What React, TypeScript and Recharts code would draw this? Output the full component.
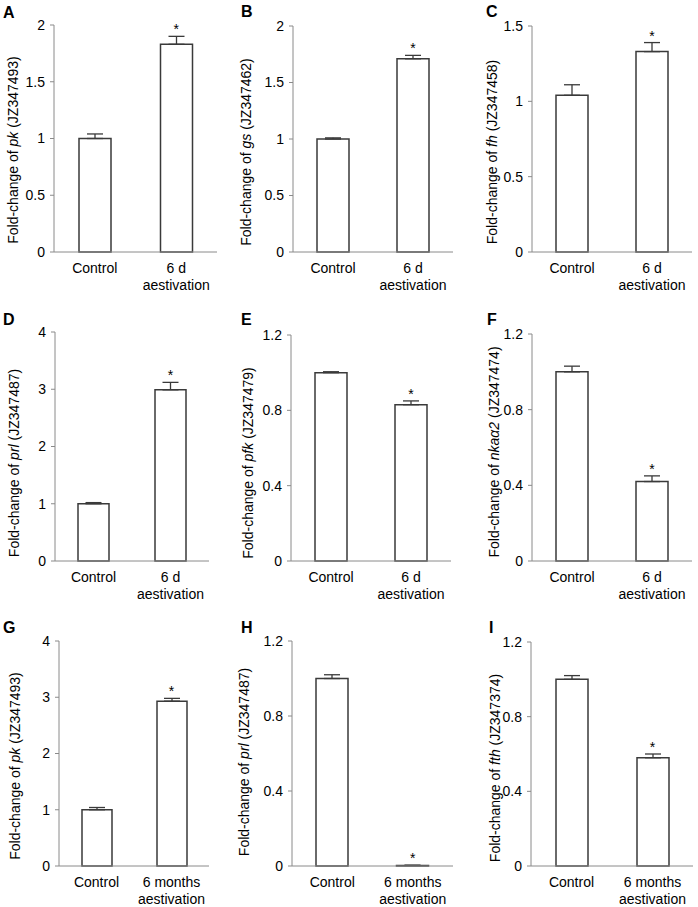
import React from 'react';
import { ComposedChart, Bar, Line, XAxis, YAxis, ErrorBar } from 'recharts';

const FONT = '"Liberation Sans", Arial, Helvetica, sans-serif';
const AXIS = '#8a8a8a';
const INK = '#3a3a3a';

// ---- categories / tick labels ----
const categories6d = ['Control', '6 d\naestivation'];
const categories6m = ['Control', '6 months\naestivation'];
const significance = ['', '*'];

const ticks0to2 = [0, 0.5, 1, 1.5, 2];
const ticks0to15 = [0, 0.5, 1, 1.5];
const ticks0to4 = [0, 1, 2, 3, 4];
const ticks0to12 = [0, 0.4, 0.8, 1.2];

// ---- series values (mean fold-change) and errors (upper SE) ----
const pkA = [1.0, 1.83];
const pkAErr = [0.04, 0.07];
const gsB = [1.0, 1.71];
const gsBErr = [0.01, 0.03];
const fhC = [1.04, 1.33];
const fhCErr = [0.07, 0.06];
const prlD = [1.0, 2.99];
const prlDErr = [0.02, 0.13];
const pfkE = [1.0, 0.83];
const pfkEErr = [0.005, 0.02];
const nkaF = [1.0, 0.42];
const nkaFErr = [0.03, 0.03];
const pkG = [1.0, 2.93];
const pkGErr = [0.04, 0.05];
const prlH = [1.0, 0.003];
const prlHErr = [0.02, 0.001];
const fthI = [1.0, 0.58];
const fthIErr = [0.02, 0.02];

type Panel = {
  letter: string;
  gene: string;
  accession: string;
  categories: string[];
  values: number[];
  errors: number[];
  ticks: number[];
  plot: { left: number; right: number; top: number; bottom: number };
  labelPos: { x: number; y: number };
  letterPos: { x: number; y: number };
  barSize: number;
};

const panels: Panel[] = [
  { letter: 'A', gene: 'pk', accession: 'JZ347493', categories: categories6d, values: pkA, errors: pkAErr, ticks: ticks0to2,
    plot: { left: 54, right: 217, top: 25, bottom: 252 }, labelPos: { x: 13, y: 150 }, letterPos: { x: 3, y: 18 }, barSize: 32 },
  { letter: 'B', gene: 'gs', accession: 'JZ347462', categories: categories6d, values: gsB, errors: gsBErr, ticks: ticks0to2,
    plot: { left: 293, right: 453, top: 26, bottom: 252 }, labelPos: { x: 246, y: 152 }, letterPos: { x: 241, y: 17 }, barSize: 32 },
  { letter: 'C', gene: 'fh', accession: 'JZ347458', categories: categories6d, values: fhC, errors: fhCErr, ticks: ticks0to15,
    plot: { left: 532, right: 692, top: 26, bottom: 252 }, labelPos: { x: 492, y: 152 }, letterPos: { x: 486, y: 17 }, barSize: 32 },
  { letter: 'D', gene: 'prl', accession: 'JZ347487', categories: categories6d, values: prlD, errors: prlDErr, ticks: ticks0to4,
    plot: { left: 55, right: 209, top: 332, bottom: 561 }, labelPos: { x: 14, y: 463 }, letterPos: { x: 3, y: 325 }, barSize: 31 },
  { letter: 'E', gene: 'pfk', accession: 'JZ347479', categories: categories6d, values: pfkE, errors: pfkEErr, ticks: ticks0to12,
    plot: { left: 291, right: 451, top: 335, bottom: 561 }, labelPos: { x: 248, y: 463 }, letterPos: { x: 241, y: 325 }, barSize: 32 },
  { letter: 'F', gene: 'nkaα2', accession: 'JZ347474', categories: categories6d, values: nkaF, errors: nkaFErr, ticks: ticks0to12,
    plot: { left: 532, right: 692, top: 334, bottom: 561 }, labelPos: { x: 494, y: 452 }, letterPos: { x: 487, y: 325 }, barSize: 32 },
  { letter: 'G', gene: 'pk', accession: 'JZ347493', categories: categories6m, values: pkG, errors: pkGErr, ticks: ticks0to4,
    plot: { left: 59, right: 209, top: 641, bottom: 866 }, labelPos: { x: 15, y: 766 }, letterPos: { x: 3, y: 633 }, barSize: 30 },
  { letter: 'H', gene: 'prl', accession: 'JZ347487', categories: categories6m, values: prlH, errors: prlHErr, ticks: ticks0to12,
    plot: { left: 292, right: 453, top: 641, bottom: 866 }, labelPos: { x: 244, y: 762 }, letterPos: { x: 241, y: 633 }, barSize: 32 },
  { letter: 'I', gene: 'fth', accession: 'JZ347374', categories: categories6m, values: fthI, errors: fthIErr, ticks: ticks0to12,
    plot: { left: 531, right: 693, top: 642, bottom: 866 }, labelPos: { x: 495, y: 768 }, letterPos: { x: 489, y: 633 }, barSize: 32 },
];

const CatTick = (props: any) => {
  const { x, y, payload } = props;
  const lines = String(payload.value).split('\n');
  return (
    <text x={x} y={y} textAnchor="middle" fontSize={14} fontFamily={FONT} fill="#000">
      {lines.map((l, i) => (
        <tspan key={i} x={x} dy={i === 0 ? 13 : 17}>{l}</tspan>
      ))}
    </text>
  );
};

const YLabel = (props: any) => {
  const { lx, ly, gene, accession } = props;
  return (
    <text
      x={lx}
      y={ly}
      transform={`rotate(-90, ${lx}, ${ly})`}
      textAnchor="middle"
      dominantBaseline="central"
      fontSize={14}
      fontFamily={FONT}
      fill="#000"
    >
      <tspan>{'Fold-change of '}</tspan>
      <tspan fontStyle="italic">{gene}</tspan>
      <tspan>{' (' + accession + ')'}</tspan>
    </text>
  );
};

const StarDot = (props: any) => {
  const { cx, cy, payload, index } = props;
  if (!payload || !payload.sig || cx == null || cy == null) return <g key={`s-${index}`} />;
  return (
    <text key={`s-${index}`} x={cx} y={cy - 2} textAnchor="middle" fontSize={14} fontFamily={FONT} fill="#000">
      {payload.sig}
    </text>
  );
};

function PanelChart({ p }: { p: Panel }) {
  const chartLeft = p.labelPos.x - 12;
  const yw = p.plot.left - chartLeft;
  const mt = 15;
  const mr = 6;
  const xh = 45;
  const chartTop = p.plot.top - mt;
  const width = yw + (p.plot.right - p.plot.left) + mr;
  const height = mt + (p.plot.bottom - p.plot.top) + xh;
  const rows = p.categories.map((name, i) => ({
    name,
    value: p.values[i],
    err: [0, p.errors[i]],
    star: p.values[i] + p.errors[i],
    sig: significance[i],
  }));
  const lx = p.labelPos.x - chartLeft;
  const ly = p.labelPos.y - chartTop;
  return (
    <div style={{ position: 'absolute', left: chartLeft, top: chartTop }}>
      <ComposedChart
        width={width}
        height={height}
        data={rows}
        margin={{ top: mt, right: mr, bottom: 0, left: 0 }}
      >
        <XAxis
          dataKey="name"
          type="category"
          height={xh}
          interval={0}
          tickLine={false}
          axisLine={{ stroke: AXIS, strokeWidth: 1 }}
          tick={<CatTick />}
        />
        <YAxis
          type="number"
          width={yw}
          domain={[p.ticks[0], p.ticks[p.ticks.length - 1]]}
          ticks={p.ticks}
          interval={0}
          tickSize={4}
          tickMargin={5}
          axisLine={{ stroke: AXIS, strokeWidth: 1 }}
          tickLine={{ stroke: AXIS, strokeWidth: 1 }}
          tick={{ fontSize: 14, fill: '#000', fontFamily: FONT }}
          label={<YLabel lx={lx} ly={ly} gene={p.gene} accession={p.accession} />}
        />
        <Bar dataKey="value" fill="#ffffff" stroke={INK} strokeWidth={1.5} barSize={p.barSize} isAnimationActive={false}>
          <ErrorBar dataKey="err" direction="y" width={8} stroke={INK} strokeWidth={1.3} isAnimationActive={false} />
        </Bar>
        <Line dataKey="star" stroke="none" dot={<StarDot />} activeDot={false} isAnimationActive={false} legendType="none" />
      </ComposedChart>
    </div>
  );
}

export default function App() {
  return (
    <div style={{ position: 'absolute', left: 0, top: 0, width: 698, height: 907, background: '#fff', fontFamily: FONT }}>
      {panels.map((p) => (
        <PanelChart key={p.letter} p={p} />
      ))}
      <svg width={698} height={907} style={{ position: 'absolute', left: 0, top: 0, pointerEvents: 'none' }}>
        {panels.map((p) => (
          <text key={p.letter} x={p.letterPos.x} y={p.letterPos.y} fontSize={16} fontWeight="bold" fontFamily={FONT} fill="#000">
            {p.letter}
          </text>
        ))}
      </svg>
    </div>
  );
}
